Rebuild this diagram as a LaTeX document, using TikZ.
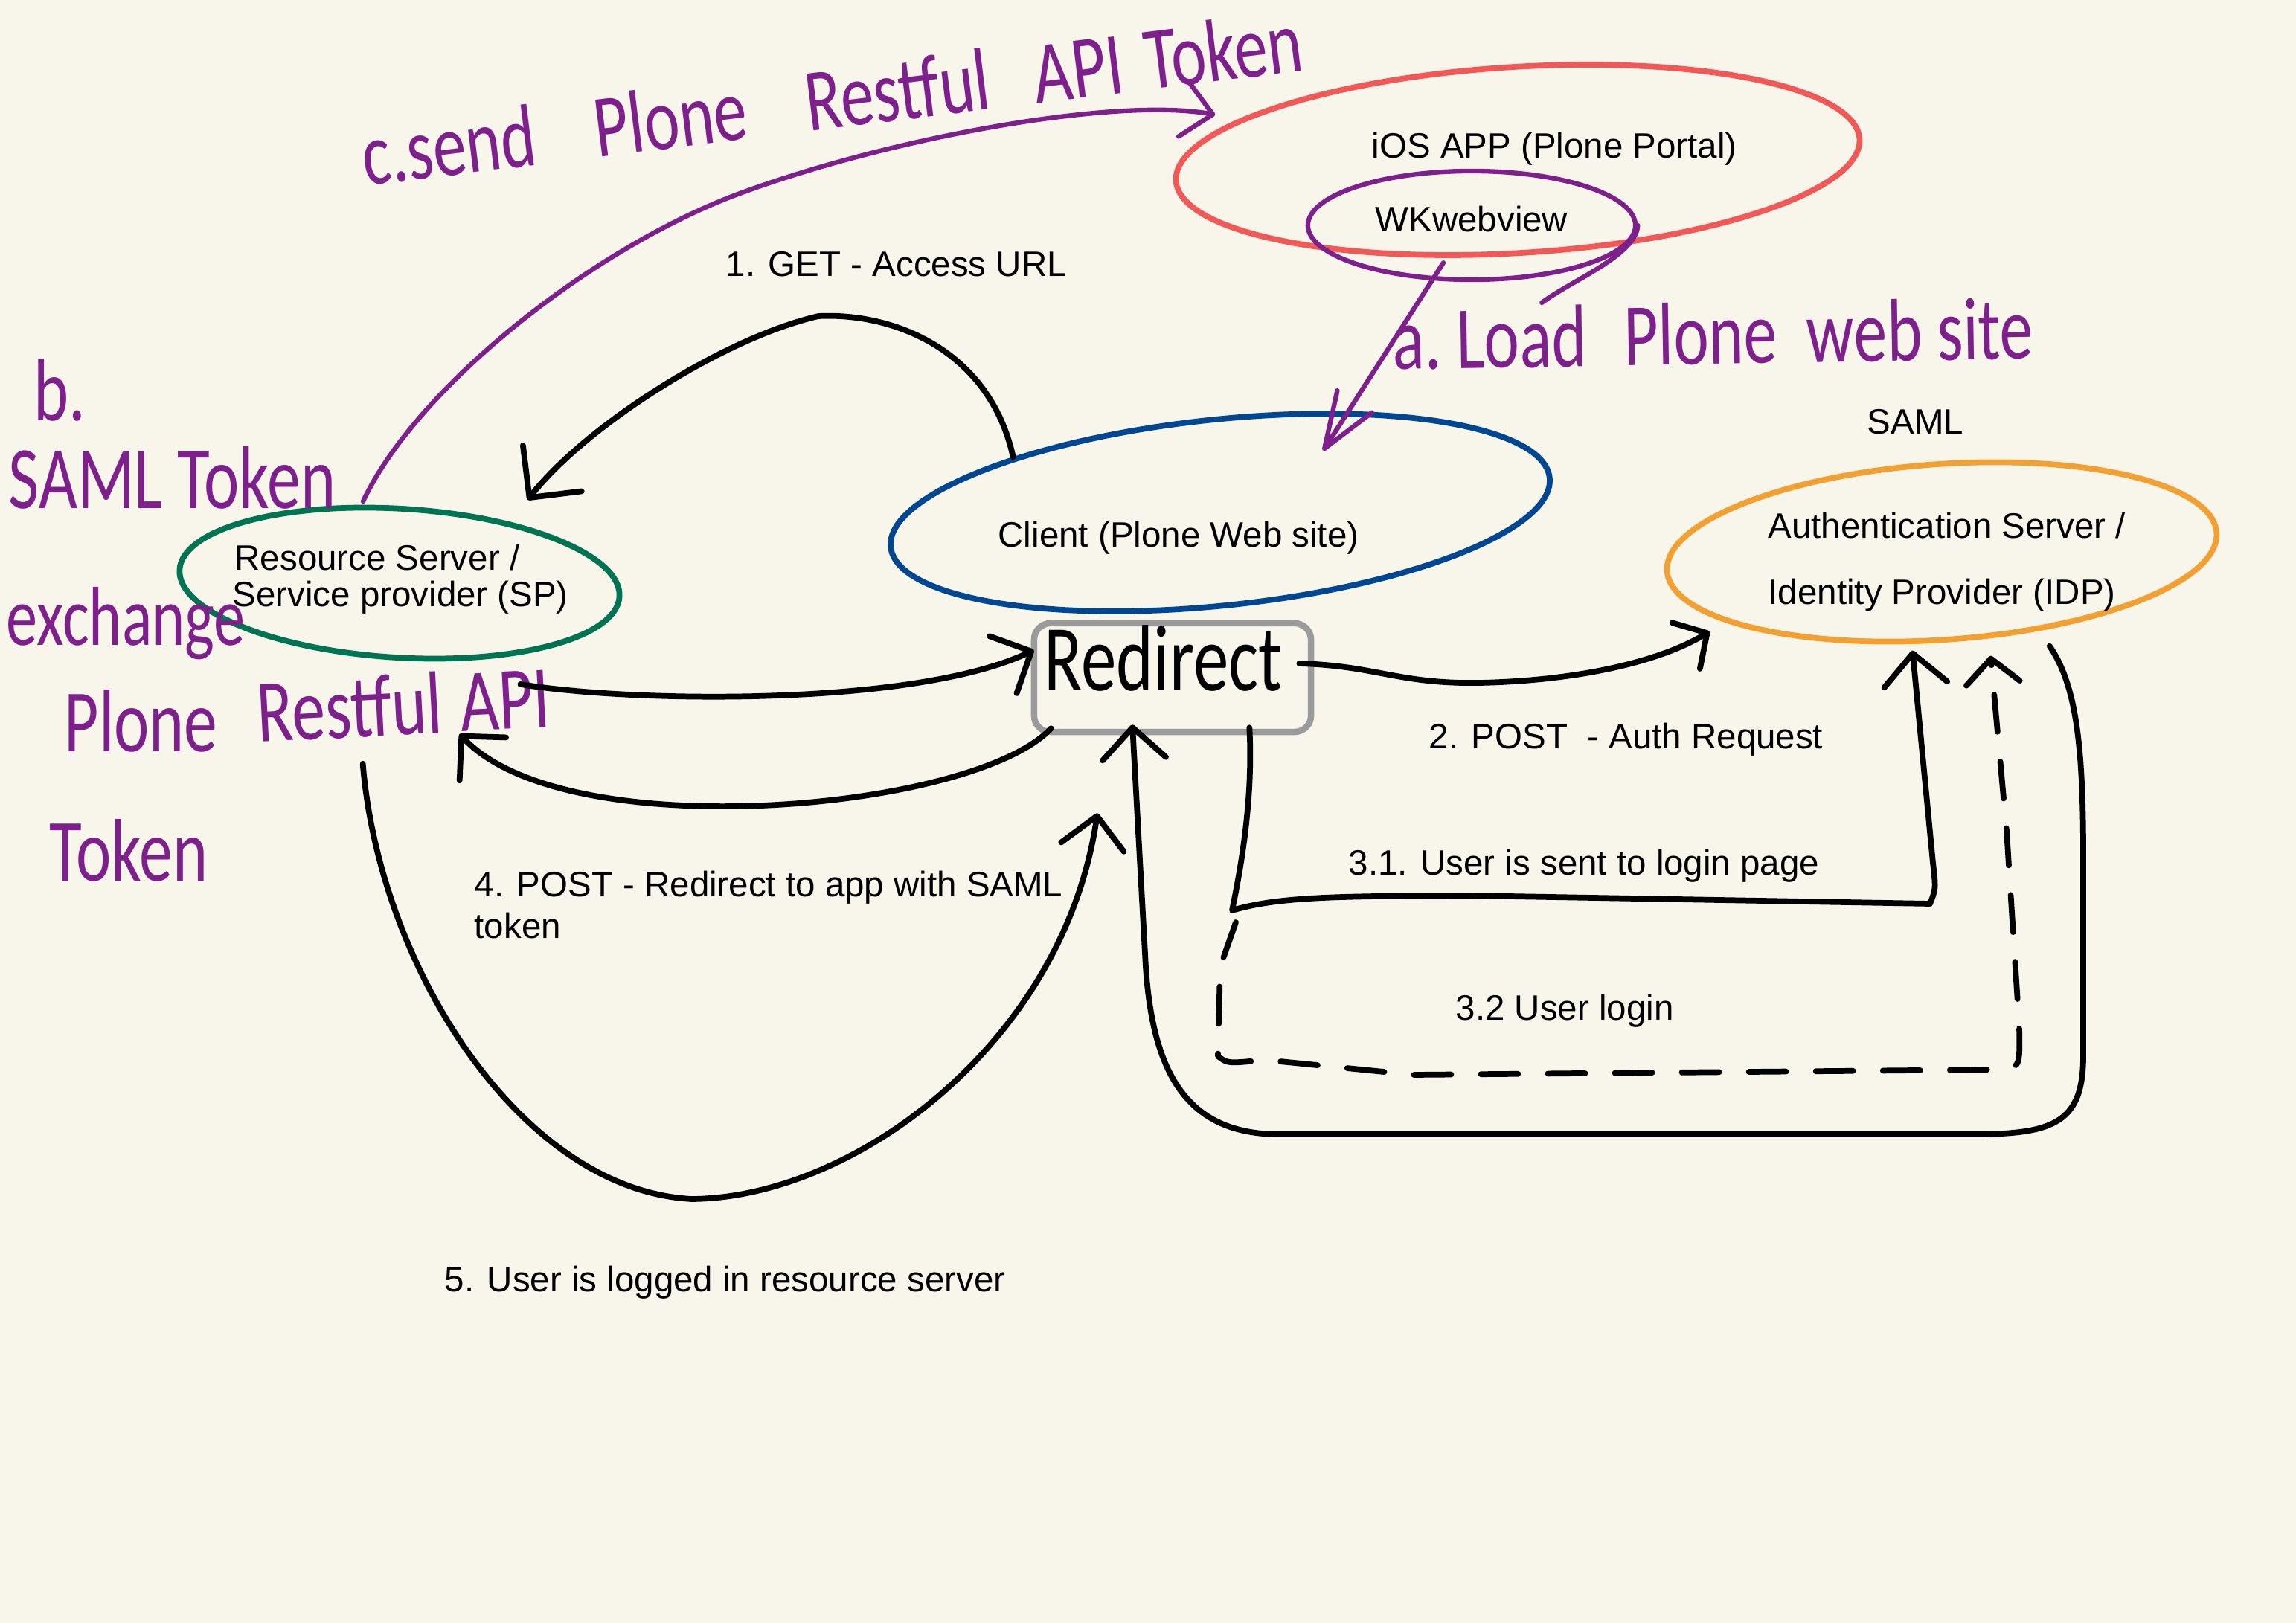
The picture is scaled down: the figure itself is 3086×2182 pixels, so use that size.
\documentclass[tikz,border=0pt]{standalone}
\usepackage{fontspec}
\setmainfont{Liberation Sans}
\newfontfamily\handfont[FakeStretch=0.75]{Carlito}
\usetikzlibrary{arrows.meta,shapes.geometric}

\definecolor{paper}{RGB}{248,246,234}
\definecolor{iosred}{RGB}{241,88,88}
\definecolor{inkpurple}{RGB}{125,32,140}
\definecolor{spgreen}{RGB}{0,115,82}
\definecolor{clientblue}{RGB}{0,70,145}
\definecolor{idporange}{RGB}{242,160,50}
\definecolor{boxgray}{RGB}{155,155,155}

\tikzset{
  pen/.style={black, line width=2.2pt, line cap=round, line join=round},
  inkline/.style={inkpurple, line width=1.8pt, line cap=round, line join=round},
  gethead/.style={-{Straight Barb[length=0.5cm,width=1.0cm,round]}},
  blackhead/.style={-{Straight Barb[length=0.42cm,width=0.85cm,round]}},
  smallhead/.style={-{Straight Barb[length=0.33cm,width=0.72cm,round]}},
  inkhead/.style={-{Straight Barb[length=0.4cm,width=0.75cm,round]}},
  loadhead/.style={-{Straight Barb[length=0.75cm,width=0.55cm,round]}},
  server/.style={ellipse, line width=2.2pt, inner sep=0pt},
  redirbox/.style={draw=boxgray, line width=2.4pt, rounded corners=0.22cm,
    minimum width=3.72cm, minimum height=1.46cm},
  lbl/.style={font=\fontsize{13.5}{16}\selectfont, anchor=base west, inner sep=0pt},
  hand/.style={font=\handfont\fontsize{34}{40}\selectfont, text=inkpurple,
    anchor=base west, inner sep=0pt},
}

\begin{document}
\begin{tikzpicture}[x=0.01cm,y=-0.01cm]
  \fill[paper] (0,0) rectangle (3086,2182);
  \useasboundingbox (0,0) rectangle (3086,2182);

  % servers and boxes
  \node[server, draw=iosred, minimum width=9.2cm, minimum height=2.5cm, rotate=3.5] (ios) at (2040,215) {};
  \node[server, draw=inkpurple, line width=1.8pt, minimum width=4.4cm, minimum height=1.46cm] (wk) at (1978,303) {};
  \node[server, draw=clientblue, minimum width=8.9cm, minimum height=2.5cm, rotate=6] (client) at (1640,689) {};
  \node[server, draw=spgreen, minimum width=5.92cm, minimum height=2.0cm, rotate=-3.5] (rs) at (537,784) {};
  \node[server, draw=idporange, minimum width=7.4cm, minimum height=2.36cm, rotate=4] (idp) at (2610,742) {};
  \node[redirbox] (redir) at (1576,911) {};

  % printed labels
  \node[lbl] (iostxt) at (1843,213) {iOS APP (Plone Portal)};
  \node[lbl] (wktxt) at (1848,312) {WKwebview};
  \node[lbl] (clienttxt) at (1341,736) {Client (Plone Web site)};
  \node[lbl] (rstxt1) at (315,767) {Resource Server /};
  \node[lbl] (rstxt2) at (312,816) {Service provider (SP)};
  \node[lbl] (saml) at (2509,584) {SAML};
  \node[lbl] (idptxt1) at (2376,724) {Authentication Server /};
  \node[lbl] (idptxt2) at (2376,813) {Identity Provider (IDP)};
  \node[lbl] (get) at (975,372) {1. GET - Access URL};
  \node[lbl] (post2) at (1920,1006) {2. POST\ \ - Auth Request};
  \node[lbl] (step31) at (1812,1176) {3.1. User is sent to login page};
  \node[lbl] (step32) at (1956,1371) {3.2 User login};
  \node[lbl] (post4a) at (637,1205) {4. POST - Redirect to app with SAML};
  \node[lbl] (post4b) at (637,1261) {token};
  \node[lbl] (step5) at (597,1736) {5. User is logged in resource server};

  % handwritten notes
  \node[hand, rotate=7] (sendtxt) at (491,250)
    {c.send\hspace{0.8cm}Plone\hspace{0.8cm}Restful\hspace{0.6cm}API\hspace{0.3cm}Token};
  \node[hand, rotate=1] (loadtxt) at (1872,497) {a.\,Load\hspace{0.5cm}Plone\hspace{0.4cm}web site};
  \node[hand] (btxt) at (45,566) {b.};
  \node[hand] (samltok) at (11,684) {SAML Token};
  \node[hand, font=\handfont\fontsize{32}{40}\selectfont] (exch) at (8,868) {exchange};
  \node[hand] (plonetxt) at (86,1011) {Plone};
  \node[hand, rotate=3] (restapi) at (347,998) {Restful\hspace{0.25cm}API};
  \node[hand] (tok) at (66,1184) {Token};
  \node[hand, text=black, font=\handfont\fontsize{36}{40}\selectfont] (redirtxt) at (1403,929) {Redirect};

  % 1. GET
  \draw[pen, gethead] (client.159) .. controls (1330,470) and (1200,420) .. (1100,425)
    .. controls (970,455) and (785,575) .. ([shift={(52,-23)}]rs.40);
  % resource server to redirect
  \draw[pen, blackhead] ([shift={(54,33)}]rs.320) .. controls (850,945) and (1230,950)
    .. ([shift={(4,-37)}]redir.west);
  % 4. POST
  \draw[pen, blackhead] ([shift={(27,-9)}]redir.south west) .. controls (1310,1090) and (760,1140)
    .. ([shift={(87,99)}]rs.south);
  % 5. logged in
  \draw[pen, blackhead] ([shift={(-43,139)}]rs.south) .. controls (510,1300) and (700,1600) .. (930,1612)
    .. controls (1150,1610) and (1430,1400) .. ([shift={(-101,105)}]redir.south);
  % 2. POST
  \draw[pen, smallhead] ([shift={(-20,-19)}]redir.east) .. controls (1850,895) and (1880,920) .. (1990,918)
    .. controls (2120,915) and (2230,890) .. ([shift={(61,81)}]idp.west);
  % 3.1
  \draw[pen, blackhead] ([shift={(-87,-10)}]redir.south east) .. controls (1685,1080) and (1665,1180)
    .. (1656,1224) coordinate (turn31) .. controls (1720,1205) and (1800,1205) .. (1972,1204)
    -- (2594,1215) .. controls (2602,1195) .. (2598,1160) -- ([shift={(-48,11)}]idp.south);
  % 3.2
  \draw[pen, dash pattern=on 0.5cm off 0.4cm, smallhead] ([shift={(5,16)}]turn31) -- (1640,1300)
    -- (1637,1420) .. controls (1650,1430) .. (1700,1425) -- (1900,1445) -- (2690,1438)
    .. controls (2715,1435) .. (2714,1380) -- (2697,1117) -- ([shift={(57,18)}]idp.south);
  % back to redirect
  \draw[pen, blackhead] ([shift={(21,19)}]idp.315) .. controls (2790,920) and (2800,1000) .. (2800,1150)
    -- (2800,1420) .. controls (2800,1510) and (2760,1525) .. (2650,1525) -- (1720,1525)
    .. controls (1600,1525) and (1550,1450) .. (1540,1300) -- ([shift={(-54,-14)}]redir.south);

  % a. load
  \draw[inkline, loadhead] ([shift={(-38,-26)}]wk.south) -- ([shift={(152,45)}]client.north);
  \draw[inkline] (wk.east) .. controls +(-2,40) and +(40,-30) .. ++(-129,104);
  % c. send
  \coordinate (sendstart) at (488,674);
  \draw[inkline, inkhead] (sendstart) .. controls (560,520) and (800,330) .. (1000,258)
    .. controls (1200,185) and (1500,130) .. ([shift={(-34,-5)}]ios.168);
\end{tikzpicture}
\end{document}
